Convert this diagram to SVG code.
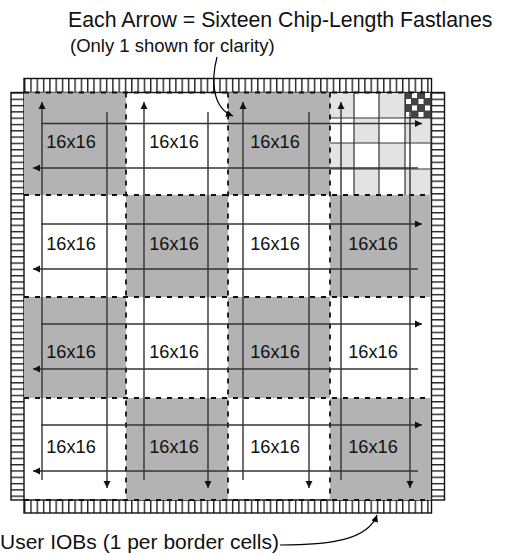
<svg xmlns="http://www.w3.org/2000/svg" width="507" height="554" viewBox="0 0 507 554">
<defs>
<marker id="ah" markerUnits="userSpaceOnUse" markerWidth="9" markerHeight="9" refX="7" refY="4" orient="auto"><path d="M0 0.5L7 4L0 7.5Z" fill="#111"/></marker>
<marker id="ah2" markerUnits="userSpaceOnUse" markerWidth="9" markerHeight="9" refX="7" refY="4" orient="auto"><path d="M0 0.5L7 4L0 7.5Z" fill="#000"/></marker>
<pattern id="hb" patternUnits="userSpaceOnUse" x="11" y="92.300" width="14" height="6.300"><path d="M0 0.700H14" stroke="#222" stroke-width="1.400"/></pattern>
<pattern id="vb" patternUnits="userSpaceOnUse" x="24" y="78" width="6.300" height="15"><path d="M0.700 0V15" stroke="#222" stroke-width="1.400"/></pattern>
</defs>
<style>
.t{font-family:"Liberation Sans",Arial,sans-serif;fill:#111}
.c{font-size:18.2px;text-anchor:middle}
.g{fill:#b3b3b3}
.l{fill:#e3e3e3}
.d{stroke:#111;stroke-width:1.8;stroke-dasharray:5 6;fill:none}
.s{stroke:#333;stroke-width:1.2;fill:none}
.a{stroke:#333;stroke-width:1.4;fill:none;marker-end:url(#ah)}
.r{stroke:#111;stroke-width:1.4;fill:none}
</style>
<g id="title"><text class="t" x="68" y="27" font-size="21.3">Each Arrow = Sixteen Chip-Length Fastlanes</text><text class="t" x="70" y="52" font-size="18.5">(Only 1 shown for clarity)</text></g>
<g id="iob-top"><rect x="24" y="78.500" width="407.500" height="14" fill="url(#vb)"/><rect x="24" y="78.500" width="407.500" height="14" class="r"/></g>
<g id="iob-bottom"><rect x="24" y="500" width="407.500" height="13" fill="url(#vb)"/><rect x="24" y="500" width="407.500" height="13" class="r"/></g>
<g id="iob-left"><rect x="11" y="92.500" width="13" height="407.500" fill="url(#hb)"/><rect x="11" y="92.500" width="13" height="407.500" class="r"/></g>
<g id="iob-right"><rect x="431.500" y="92.500" width="13" height="407.500" fill="url(#hb)"/><rect x="431.500" y="92.500" width="13" height="407.500" class="r"/></g>
<g id="cells">
<rect class="g" x="24" y="92.500" width="102" height="102.500"/>
<rect class="g" x="228" y="92.500" width="102" height="102.500"/>
<rect class="g" x="126" y="195" width="102" height="102"/>
<rect class="g" x="330" y="195" width="101" height="102"/>
<rect class="g" x="24" y="297" width="102" height="101"/>
<rect class="g" x="228" y="297" width="102" height="101"/>
<rect class="g" x="126" y="398" width="102" height="102"/>
<rect class="g" x="330" y="398" width="101" height="102"/>
</g>
<g id="corner">
<rect class="l" x="330" y="93" width="24" height="25"/><rect class="l" x="379" y="93" width="26" height="25"/>
<rect class="l" x="354" y="118" width="25" height="25"/><rect class="l" x="405" y="118" width="26" height="25"/>
<rect class="l" x="330" y="143" width="24" height="26"/><rect class="l" x="379" y="143" width="26" height="26"/>
<rect class="l" x="354" y="169" width="25" height="26"/><rect class="l" x="405" y="169" width="26" height="26"/>
<rect x="405" y="92.500" width="26" height="25.500" fill="#444"/>
<path d="M354 92.500V195M379 92.500V195M405 92.500V195M330 118H431M330 143H431M330 169H431M431 92.500V195" class="s"/>
<path d="M412 93h5v5h-5zM425 93h5v5h-5zM406 99h5v5h-5zM418.500 99h5v5h-5zM412 105.500h5v5h-5zM425 105.500h5v5h-5zM406 112h5v5h-5zM418.500 112h5v5h-5z" fill="#fff"/>
</g>
<g id="grid-dashes"><path class="d" d="M24 195H431M24 297H431M24 398H431M24 92.500H431M24 500H431M126 92.500V500M228 92.500V500M330 92.500V500"/></g>
<g id="connectors">
<path class="a" d="M42 480V102"/><path class="a" d="M144 480V102"/><path class="a" d="M243 480V102"/><path class="a" d="M341 480V102"/>
<path class="a" d="M107 112V488"/><path class="a" d="M208 112V488"/><path class="a" d="M309 112V488"/><path class="a" d="M410 112V488"/>
<path class="a" d="M41 123.500H422"/><path class="a" d="M41 224H422"/><path class="a" d="M41 324H422"/><path class="a" d="M41 425H422"/>
<path class="a" d="M418 168H33"/><path class="a" d="M418 269H33"/><path class="a" d="M418 369H33"/><path class="a" d="M418 471H33"/>
<path d="M217 57C211 80 212 108 233 116" fill="none" stroke="#000" stroke-width="1.200" marker-end="url(#ah2)"/>
<path d="M280 545C330 545 368 540 377 515" fill="none" stroke="#000" stroke-width="1.200" marker-end="url(#ah2)"/>
</g>
<g id="labels">
<text class="t c" x="71" y="148">16x16</text><text class="t c" x="174" y="148">16x16</text><text class="t c" x="275" y="148">16x16</text>
<text class="t c" x="71" y="250">16x16</text><text class="t c" x="174" y="250">16x16</text><text class="t c" x="275" y="250">16x16</text><text class="t c" x="373" y="250">16x16</text>
<text class="t c" x="71" y="358">16x16</text><text class="t c" x="174" y="358">16x16</text><text class="t c" x="275" y="358">16x16</text><text class="t c" x="373" y="358">16x16</text>
<text class="t c" x="71" y="453">16x16</text><text class="t c" x="174" y="453">16x16</text><text class="t c" x="275" y="453">16x16</text><text class="t c" x="373" y="453">16x16</text>
<text class="t" x="0" y="549" font-size="21">User IOBs (1 per border cells)</text>
</g>
</svg>
